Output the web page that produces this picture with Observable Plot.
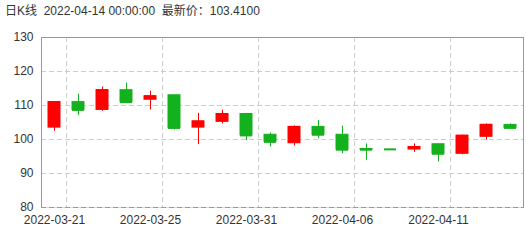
<!DOCTYPE html>
<html>
<head>
<meta charset="utf-8">
<script src="https://cdn.jsdelivr.net/npm/d3@7"></script>
<script src="https://cdn.jsdelivr.net/npm/@observablehq/plot@0.6"></script>
<style>
  body { margin: 0; background: #fff; }
  #title { height: 24px; line-height: 22px; padding-left: 5px; font-size: 12px; color: #333;
           font-family: "Liberation Sans", Arial, "Noto Sans CJK SC", sans-serif; white-space: pre; }
</style>
</head>
<body>
<div id="title">日K线  2022-04-14 00:00:00  最新价：103.4100</div>
<div id="chart"></div>
<script>
const dates = ["2022-03-21","2022-03-22","2022-03-23","2022-03-24","2022-03-25","2022-03-28","2022-03-29","2022-03-30","2022-03-31","2022-04-01","2022-04-04","2022-04-05","2022-04-06","2022-04-07","2022-04-08","2022-04-09","2022-04-11","2022-04-12","2022-04-13","2022-04-14"];
const open  = [103.5,111.0,108.7,114.5,111.7,113.0,103.5,105.2,107.5,101.4,98.9,103.7,101.4,97.2,97.1,97.05,98.6,95.8,100.8,104.3];
const close = [111.0,108.7,114.5,111.0,112.7,103.4,105.3,107.5,101.2,99.3,103.7,101.4,97.0,97.0,97.1,97.8,95.8,101.1,104.3,103.41];
const high  = [111.0,113.3,115.4,116.6,114.2,113.0,107.7,108.6,107.7,101.9,104.0,105.6,103.9,98.7,97.1,98.7,98.6,101.3,104.6,104.6];
const low   = [102.4,107.1,108.3,110.6,108.7,102.8,98.5,104.6,99.7,97.8,98.1,100.2,95.8,93.9,97.1,96.2,93.4,95.5,99.8,103.3];
const yTicks = [80, 90, 100, 110, 120, 130];
const xLabels = ["2022-03-21","2022-03-25","2022-03-31","2022-04-06","2022-04-11"];

const UP = "#ff0000", DOWN = "#14b11e";
const data = dates.map((d, i) => ({date: d, open: open[i], close: close[i], high: high[i], low: low[i],
  c: close[i] > open[i] ? UP : DOWN}));

const W = 526, H = 218, mL = 41, mR = 3;
const step = (W - mL - mR) / dates.length;

const chart = Plot.plot({
  width: W, height: H,
  marginLeft: mL, marginRight: mR, marginTop: 13, marginBottom: 35,
  style: {fontFamily: "'Liberation Sans', Arial, sans-serif", fontSize: "12px", color: "#333", background: "#fff"},
  x: {type: "band", domain: dates, padding: 0, axis: null, label: null},
  y: {domain: [80, 130], axis: null, label: null},
  color: {type: "identity"},
  marks: [
    Plot.ruleY(yTicks.slice(1, -1), {stroke: "#ccc", strokeDasharray: "5,3"}),
    Plot.ruleX(xLabels, {dx: step / 2, stroke: "#ccc", strokeDasharray: "5,3"}),
    Plot.frame({stroke: "#999"}),
    Plot.ruleY([80], {stroke: "#ddd"}),
    Plot.ruleY([80], {stroke: "#999", strokeDasharray: "5,3"}),
    Plot.ruleX(data, {x: "date", y1: "low", y2: "high", stroke: "c", strokeWidth: 1}),
    Plot.barY(data, {x: "date", y1: "open", y2: "close", fill: "c", stroke: "c", strokeWidth: 1, insetLeft: 6, insetRight: 6}),
    Plot.tickY(data, {x: "date", y: "close", stroke: "c", strokeWidth: 2, insetLeft: 6, insetRight: 6}),
    Plot.axisY({ticks: yTicks, tickSize: 0, tickPadding: 8, fontSize: 12, label: null}),
    Plot.axisX({ticks: xLabels, tickSize: 0, tickPadding: 8, fontSize: 12, label: null})
  ]
});
document.getElementById("chart").appendChild(chart);
</script>
</body>
</html>
